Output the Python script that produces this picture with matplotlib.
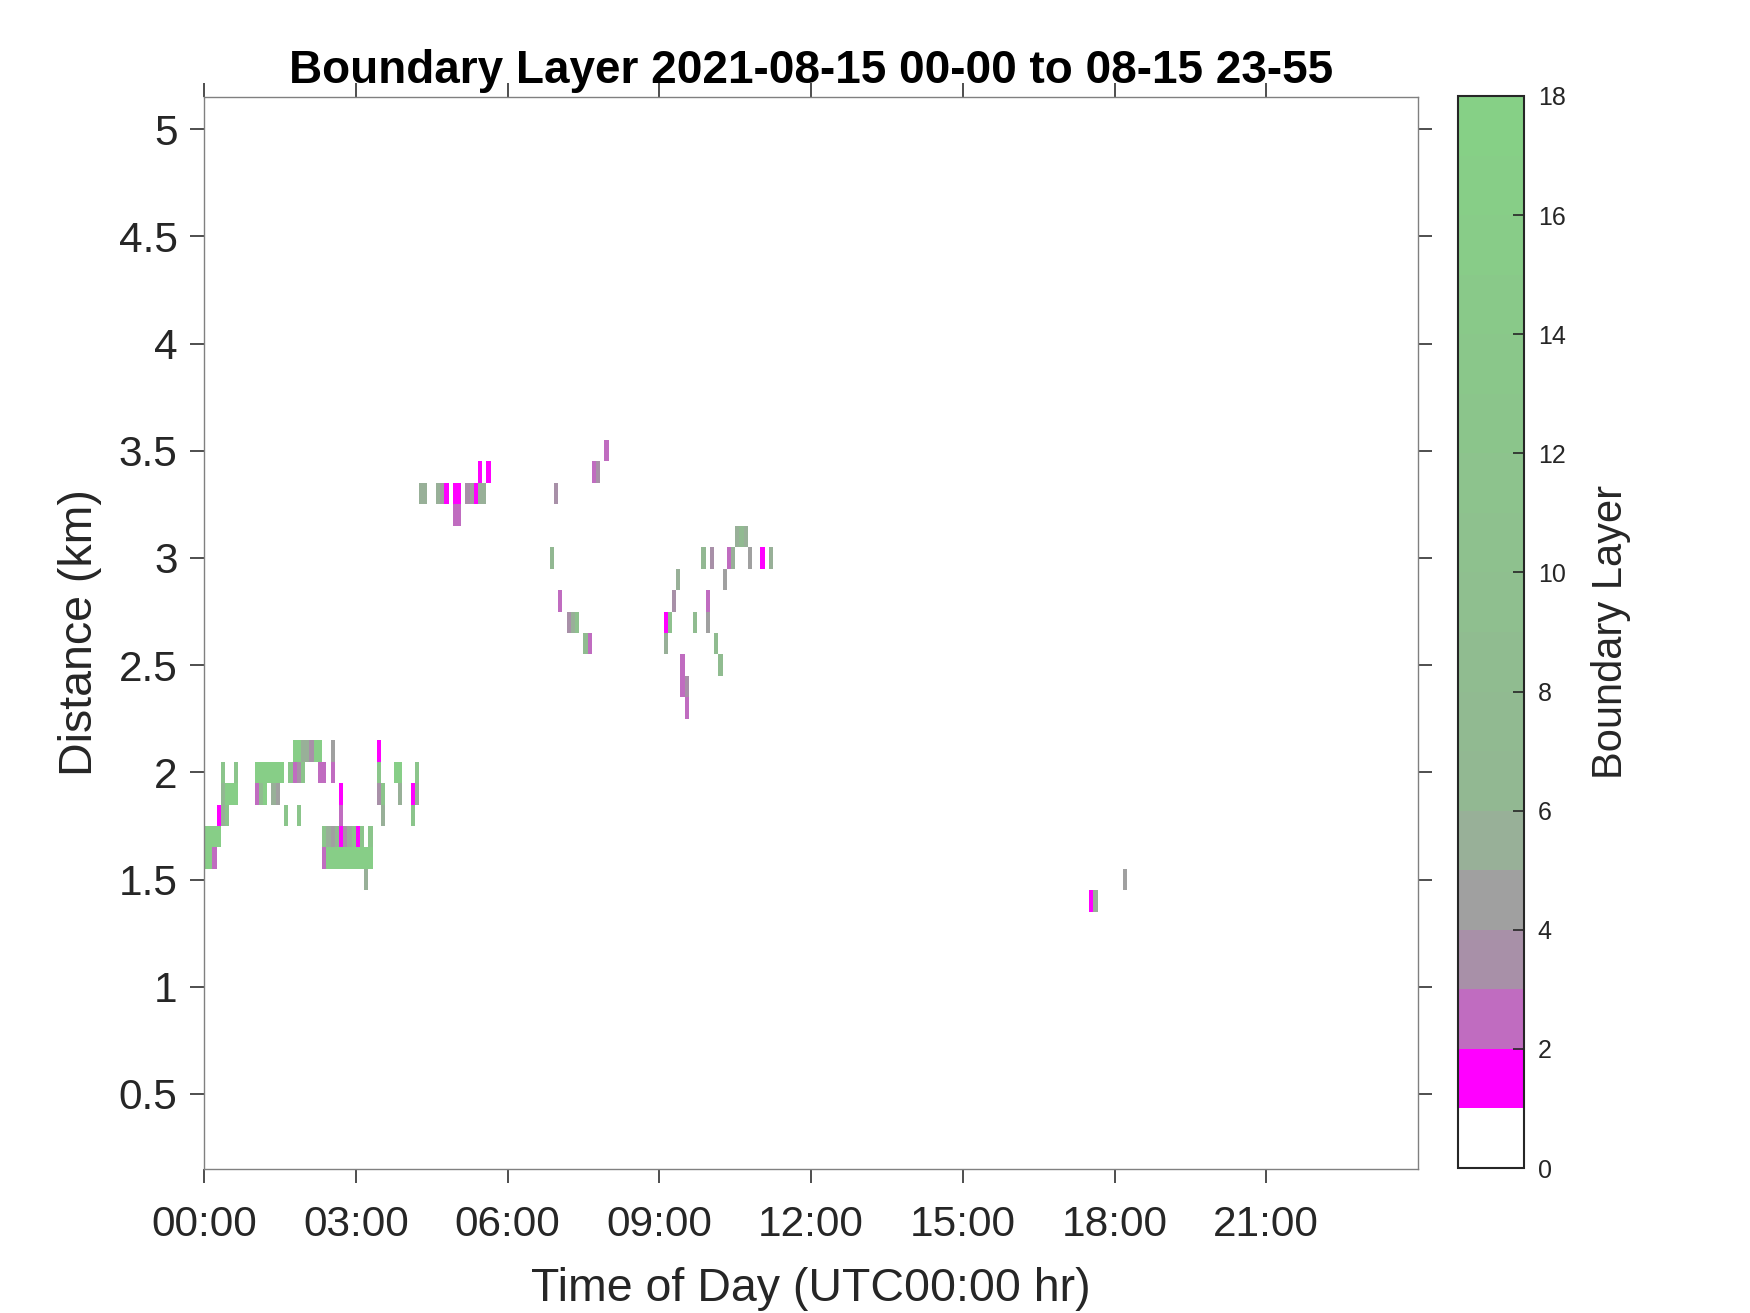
import numpy as np
import matplotlib.pyplot as plt
from matplotlib.colors import ListedColormap

plt.rcParams['font.family'] = ['Liberation Sans', 'DejaVu Sans']

# height (km) of each row of cells, 5-min slot index of each cell, and its value
bl_km = [2.1, 2.0, 1.9, 1.8, 1.7, 1.6, 1.5,
         3.5, 3.4, 3.3, 3.2,
         3.1, 3.0, 2.9, 2.8, 2.7, 2.6, 2.5, 2.4, 2.3,
         1.4]
bl_slots = [
    [21, 22, 23, 24, 25, 26, 27, 30, 41],
    [4, 7, 12, 13, 14, 15, 16, 17, 18, 20, 21, 22, 23, 27, 28, 30, 41, 45, 46, 50],
    [4, 5, 6, 7, 12, 13, 14, 16, 17, 32, 41, 42, 46, 49, 50],
    [3, 4, 5, 19, 22, 32, 42, 49],
    [0, 1, 2, 3, 28, 29, 30, 31, 32, 33, 34, 35, 36, 37, 39],
    [0, 1, 2, 28, 29, 30, 31, 32, 33, 34, 35, 36, 37, 38, 39],
    [38, 218],
    [95],
    [65, 67, 92, 93],
    [51, 52, 55, 56, 57, 59, 60, 62, 63, 64, 65, 66, 83],
    [59, 60],
    [126, 127, 128],
    [82, 118, 120, 124, 125, 129, 132, 134],
    [112, 123],
    [84, 111, 119],
    [86, 87, 88, 109, 110, 116, 119],
    [90, 91, 109, 121],
    [113, 122],
    [113, 114],
    [114],
    [210, 211],
]
bl_vals = [
    [16, 16, 5.5, 5.8, 3.5, 16, 16, 4.5, 1.5],
    [12, 12, 16, 16, 16, 16, 16, 16, 16, 12, 2.5, 3.5, 12, 2.5, 2.5, 2.5, 12, 16, 16, 12],
    [6, 16, 16, 16, 2.5, 8, 16, 5.5, 4.5, 1.5, 3.5, 12, 5.5, 1.5, 5.5],
    [1.5, 5.5, 12, 12, 12, 2.5, 5.5, 12],
    [16, 16, 16, 16, 12, 5.5, 4.5, 6, 1.5, 3.5, 5.5, 12, 1.5, 12, 12],
    [16, 16, 2.5, 2.5, 16, 16, 16, 16, 16, 16, 16, 16, 16, 16, 16],
    [5.5, 4.5],
    [2.5],
    [1.5, 1.5, 2.5, 3.5],
    [5.5, 5.5, 5.5, 4.5, 1.5, 1.5, 1.5, 3.5, 4.5, 1.5, 5.5, 5.5, 3.5],
    [2.5, 2.5],
    [5.5, 7, 5.5],
    [6, 6, 3.5, 2.5, 5.5, 4.5, 1.5, 5.5],
    [5.5, 4.5],
    [2.5, 3.5, 2.5],
    [3.5, 5.5, 10, 1.5, 10, 8, 4.5],
    [8, 2.5, 5.5, 8],
    [2.5, 8],
    [2.5, 3.5],
    [2.5],
    [1.5, 5.5],
]

hour_ticks = [0, 3, 6, 9, 12, 15, 18, 21]
km_ticks = [0.5, 1, 1.5, 2, 2.5, 3, 3.5, 4, 4.5, 5]

# grid: 288 five-minute columns, 50 rows of 0.1 km
t_edges = np.arange(289) * 5 / 60
z_edges = np.arange(51) * 0.1 + 0.15
Z = np.zeros((50, 288))
for km, slots, vals in zip(bl_km, bl_slots, bl_vals):
    i = int(round((km - 0.2) / 0.1))
    for s, v in zip(slots, vals):
        Z[i, s] = v

# colormap: white, magenta, purple ... green
base = [(255, 255, 255), (255, 0, 255), (192, 108, 192), (168, 144, 168),
        (160, 160, 160), (152, 176, 152)]
greens = [(146 - 12 * k / 11, 184 + 24 * k / 11, 146 - 12 * k / 11) for k in range(12)]
cmap = ListedColormap([tuple(c / 255 for c in col) for col in base + greens])

fig = plt.figure(figsize=(17.5, 13.13), dpi=100)
ax = fig.add_axes([0.1166, 0.1097, 0.6937, 0.8164])
cax = fig.add_axes([0.8331, 0.1104, 0.0377, 0.8165])

pc = ax.pcolormesh(t_edges, z_edges, Z, cmap=cmap, vmin=0, vmax=18, shading='flat')

ax.set_xlim(0, 24)
ax.set_ylim(0.15, 5.15)
ax.set_xticks(hour_ticks)
ax.set_xticklabels([f'{h:02d}:00' for h in hour_ticks])
ax.set_yticks(km_ticks)
ax.set_yticklabels([f'{v:g}' for v in km_ticks])
ax.tick_params(direction='out', length=10, width=1.3, top=True, right=True,
               labelsize=30.5, labelcolor='#262626', color='#404040')
ax.tick_params(axis='x', pad=16)
ax.tick_params(axis='y', pad=9)
for sp in ax.spines.values():
    sp.set_color('#808080')
    sp.set_linewidth(1.0)

ax.set_xlabel('Time of Day (UTC00:00 hr)', fontsize=33.5, color='#262626', labelpad=16)
ax.set_ylabel('Distance (km)', fontsize=33.5, color='#262626', labelpad=12)
ax.set_title('Boundary Layer 2021-08-15 00-00 to 08-15 23-55',
             fontsize=33, fontweight='bold', pad=10)

cb = fig.colorbar(pc, cax=cax, ticks=range(0, 19, 2))
cb.outline.set_edgecolor('#262626')
cb.outline.set_linewidth(1.5)
cax.tick_params(direction='in', length=8, width=1.2, labelsize=18, pad=10,
                color='#262626', labelcolor='#262626')
cb.set_label('Boundary Layer', fontsize=30, labelpad=18, color='#262626')

plt.savefig('out.png', dpi=100)
